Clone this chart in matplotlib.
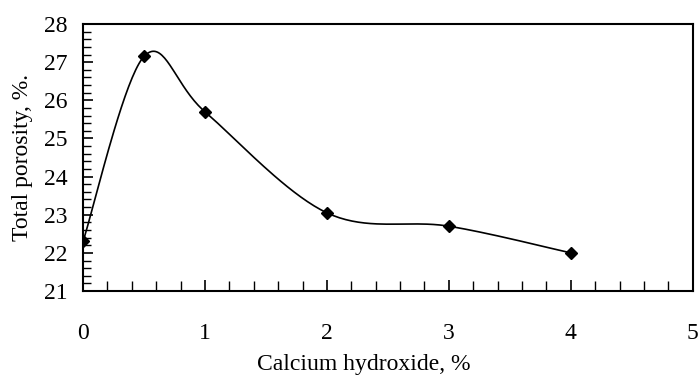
import numpy as np
import matplotlib
matplotlib.use("Agg")
import matplotlib.pyplot as plt
from matplotlib.ticker import MultipleLocator

# calcium hydroxide content (%) vs total porosity (%)
calcium = [0, 0.5, 1, 2, 3, 4]
porosity = [22.3, 27.15, 25.7, 23.05, 22.7, 22.0]

plt.rcParams['font.family'] = ['Liberation Serif', 'DejaVu Serif']


def smooth(xs, ys, sx, sy, n=40):
    # Excel-style smoothed line: cubic bezier with Catmull-Rom control points,
    # computed in a roughly pixel-scaled space
    px = np.array(xs, dtype=float) * sx
    py = np.array(ys, dtype=float) * sy
    m = len(px)
    outx, outy = [], []
    for i in range(m - 1):
        p0 = np.array([px[max(i - 1, 0)], py[max(i - 1, 0)]])
        p1 = np.array([px[i], py[i]])
        p2 = np.array([px[i + 1], py[i + 1]])
        p3 = np.array([px[min(i + 2, m - 1)], py[min(i + 2, m - 1)]])
        c1 = p1 + (p2 - p0) / 6.0
        c2 = p2 - (p3 - p1) / 6.0
        t = np.linspace(0, 1, n)[:, None]
        b = ((1 - t) ** 3) * p1 + 3 * ((1 - t) ** 2) * t * c1 + 3 * (1 - t) * t ** 2 * c2 + t ** 3 * p2
        outx.extend(b[:, 0] / sx)
        outy.extend(b[:, 1] / sy)
    return np.array(outx), np.array(outy)


fig = plt.figure(figsize=(7, 3.76), dpi=100)
ax = fig.add_axes([0.1186, 0.226, 0.871, 0.71])

cx, cy = smooth(calcium, porosity, 122.0, 38.1)
ax.plot(cx, cy, color='black', linewidth=1.2)
ax.plot(calcium, porosity, linestyle='none', marker='D', markersize=6.5,
        color='black')

ax.set_xlim(0, 5)
ax.set_ylim(21, 28)
ax.xaxis.set_major_locator(MultipleLocator(1))
ax.xaxis.set_minor_locator(MultipleLocator(0.2))
ax.yaxis.set_major_locator(MultipleLocator(1))
ax.yaxis.set_minor_locator(MultipleLocator(0.2))

ax.tick_params(axis='x', which='major', direction='in', length=8, width=1.2,
               pad=23, labelsize=17, top=False)
ax.tick_params(axis='x', which='minor', direction='in', length=7, width=1,
               top=False)
ax.tick_params(axis='y', which='major', direction='in', length=7, width=1.2,
               pad=11, labelsize=17, right=False)
ax.tick_params(axis='y', which='minor', direction='in', length=6, width=1,
               right=False)

for s in ax.spines.values():
    s.set_linewidth(1.5)

ax.set_xlabel('Calcium hydroxide, %', fontsize=17, labelpad=7)
ax.xaxis.label.set_x(0.46)
ax.set_ylabel('Total porosity, %.', fontsize=17, labelpad=8)

fig.savefig('out.png', dpi=100)
